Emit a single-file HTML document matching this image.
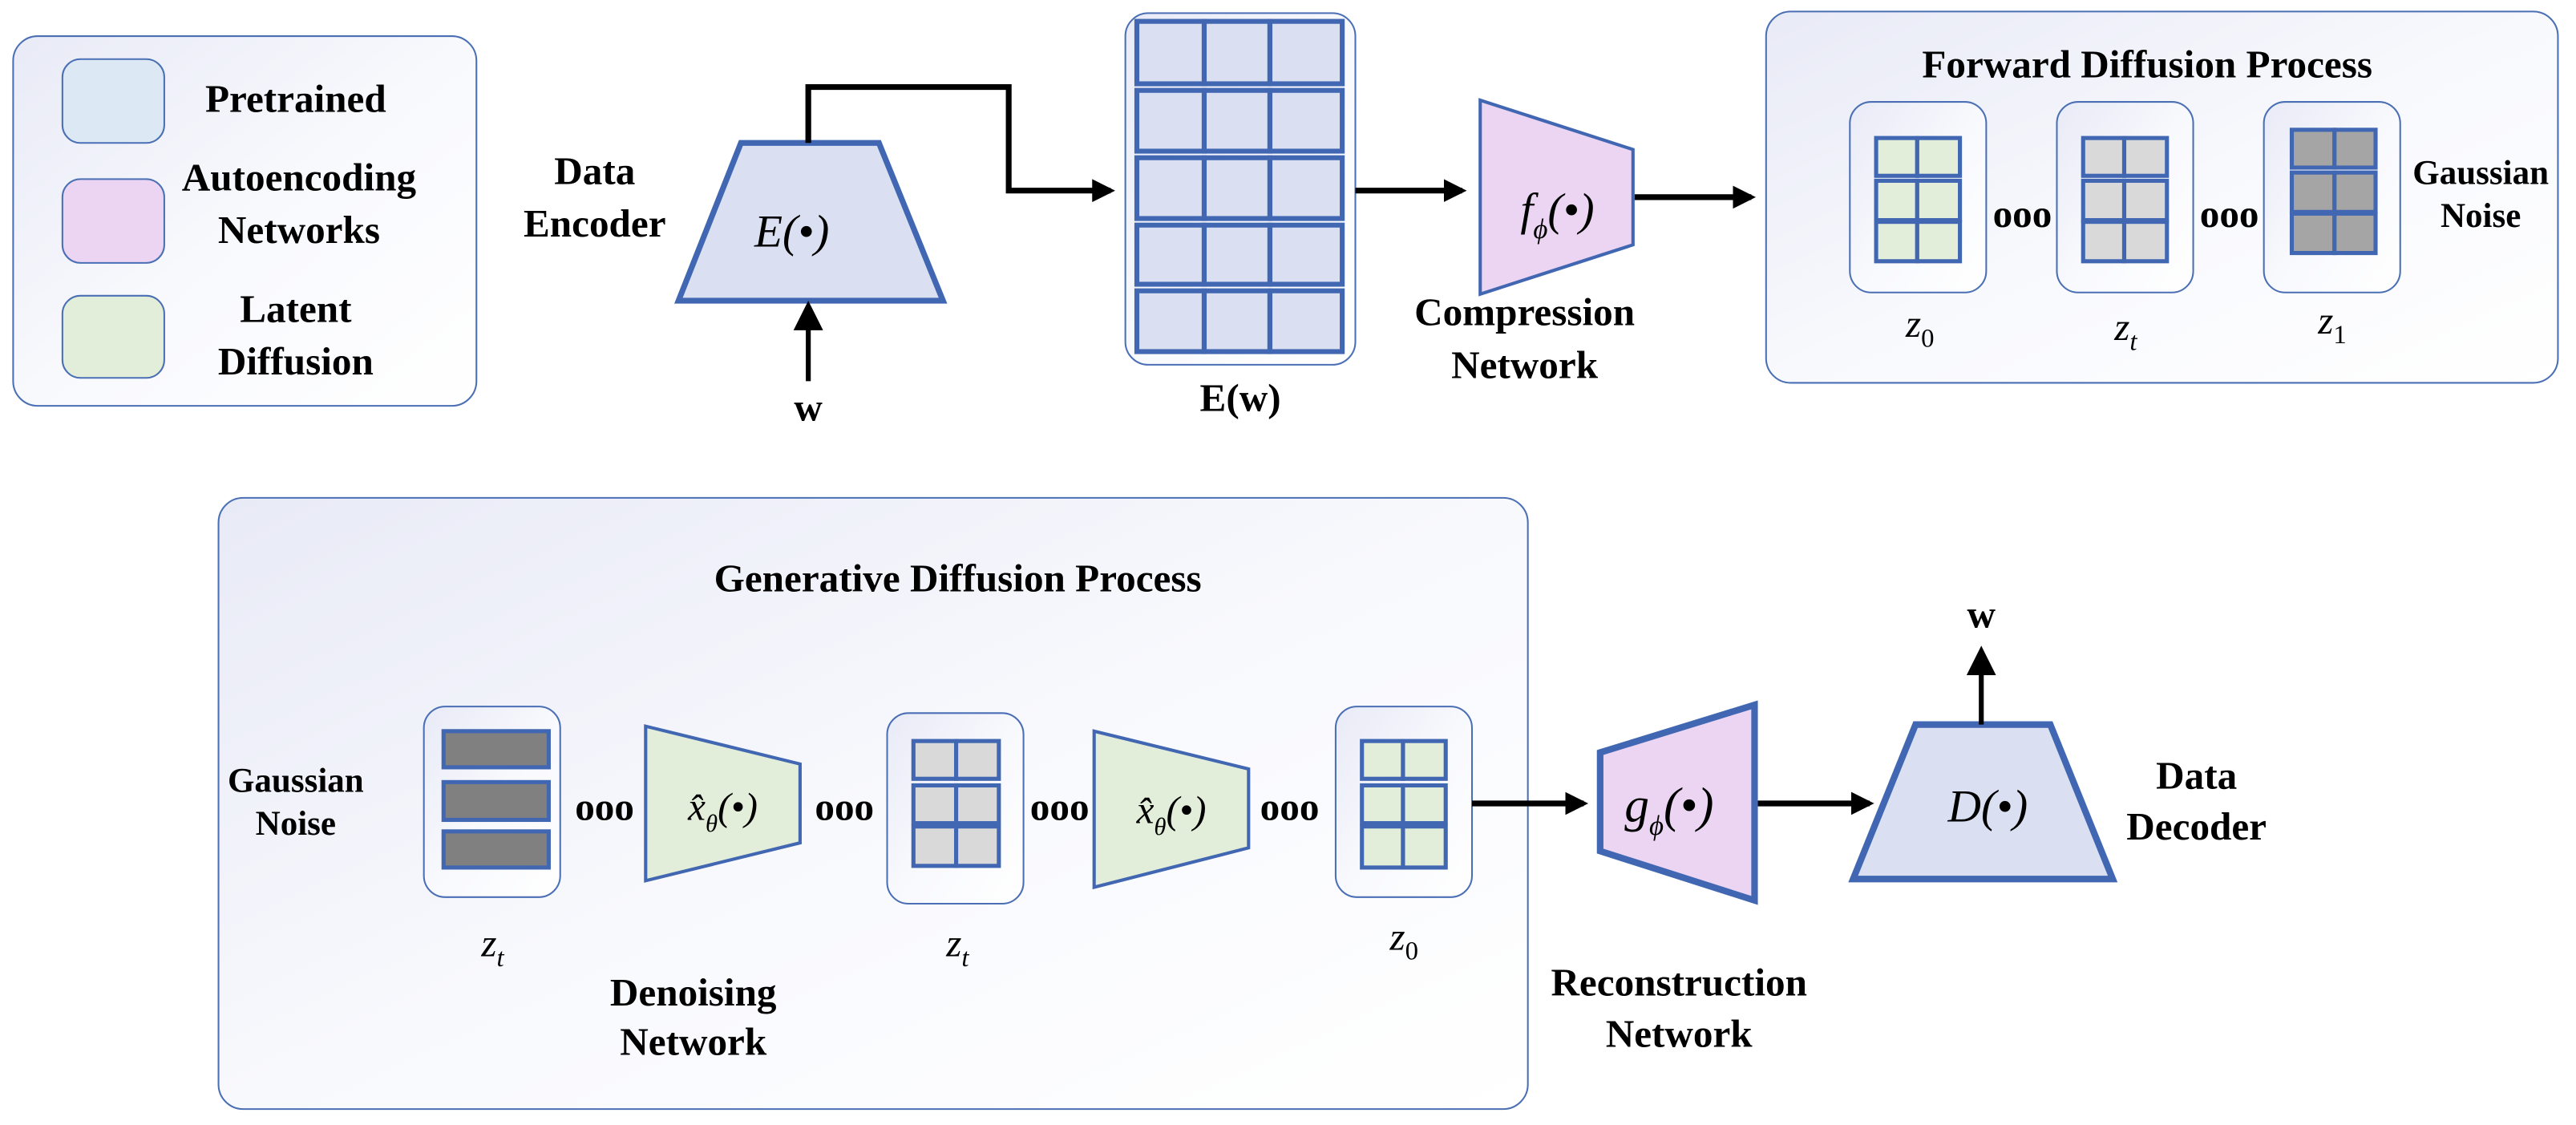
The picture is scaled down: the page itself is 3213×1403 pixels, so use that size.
<!DOCTYPE html>
<html><head><meta charset="utf-8"><style>
html,body{margin:0;padding:0;background:#fff;}
svg{display:block;font-family:'Liberation Serif','Times New Roman','DejaVu Serif',serif;}
svg text{font-family:'Liberation Serif','Times New Roman','DejaVu Serif',serif;fill:#000;}
.b{font-weight:bold;font-size:24px;}
.m{font-style:italic;font-size:28px;}
.z{font-style:italic;font-size:24px;}
</style></head><body>
<svg width="3213" height="1403" viewBox="0 0 1568 684.7" preserveAspectRatio="none" xmlns="http://www.w3.org/2000/svg" font-family="Liberation Serif, serif">
<defs>
<linearGradient id="g" x1="0" y1="0" x2="1" y2="1">
<stop offset="0" stop-color="#e8eaf6"/><stop offset="0.5" stop-color="#f8f9fd"/><stop offset="1" stop-color="#ffffff"/>
</linearGradient>
<marker id="a" markerWidth="4" markerHeight="4" refX="3.2" refY="2" orient="auto" markerUnits="strokeWidth">
<path d="M0,0 L4,2 L0,4 z" fill="#000"/></marker>
<marker id="a2" markerWidth="6" markerHeight="6" refX="5" refY="3" orient="auto" markerUnits="strokeWidth">
<path d="M0,0 L6,3 L0,6 z" fill="#000"/></marker>
</defs>
<g stroke="#4a6fb5" stroke-width="1" fill="url(#g)">
<rect x="8" y="22" width="282" height="225" rx="15"/>
<rect x="685" y="8" width="140" height="214" rx="14"/>
<rect x="1075" y="7" width="482" height="226" rx="15"/>
<rect x="1126" y="62" width="83" height="116" rx="13"/>
<rect x="1252" y="62" width="83" height="116" rx="13"/>
<rect x="1378" y="62" width="83" height="116" rx="13"/>
<rect x="133" y="303" width="797" height="372" rx="15"/>
<rect x="258" y="430" width="83" height="116" rx="13"/>
<rect x="540" y="434" width="83" height="116" rx="13"/>
<rect x="813" y="430" width="83" height="116" rx="13"/>
</g>
<g stroke="#4a6fb5" stroke-width="1">
<rect x="38" y="36" width="62" height="51" rx="11" fill="#dde8f5"/>
<rect x="38" y="109" width="62" height="51" rx="11" fill="#ecd5f3"/>
<rect x="38" y="180" width="62" height="50" rx="11" fill="#e2eed9"/>
</g>
<g text-anchor="middle">
<text class="b" x="180" y="68">Pretrained</text>
<text class="b" x="182" y="116">Autoencoding</text>
<text class="b" x="182" y="148">Networks</text>
<text class="b" x="180" y="196">Latent</text>
<text class="b" x="180" y="228">Diffusion</text>
<text class="b" x="362" y="112">Data</text>
<text class="b" x="362" y="144">Encoder</text>
<text class="b" x="492" y="256">w</text>
<text class="b" x="755" y="250">E(w)</text>
<text class="b" x="928" y="198">Compression</text>
<text class="b" x="928" y="230">Network</text>
<text class="b" x="1307" y="47">Forward Diffusion Process</text>
<text class="b" x="1510" y="112" style="font-size:21px">Gaussian</text>
<text class="b" x="1510" y="138" style="font-size:21px">Noise</text>
<text class="b" x="1231" y="138">ooo</text>
<text class="b" x="1357" y="138">ooo</text>
<text class="b" x="583" y="360">Generative Diffusion Process</text>
<text class="b" x="180" y="482" style="font-size:21px">Gaussian</text>
<text class="b" x="180" y="508" style="font-size:21px">Noise</text>
<text class="b" x="368" y="499">ooo</text>
<text class="b" x="514" y="499">ooo</text>
<text class="b" x="645" y="499">ooo</text>
<text class="b" x="785" y="499">ooo</text>
<text class="b" x="422" y="612">Denoising</text>
<text class="b" x="422" y="642">Network</text>
<text class="b" x="1022" y="606">Reconstruction</text>
<text class="b" x="1022" y="637">Network</text>
<text class="b" x="1206" y="382">w</text>
<text class="b" x="1337" y="480">Data</text>
<text class="b" x="1337" y="511">Decoder</text>
</g>
<polygon points="451,87 535,87 574,183 413,183" fill="#dae0f2" stroke="#4267b2" stroke-width="3.5"/>
<text class="m" x="482" y="150" text-anchor="middle">E(•)</text>
<line x1="492" y1="232" x2="492" y2="186" stroke="#000" stroke-width="3" marker-end="url(#a2)"/>
<polyline points="492,87 492,53 614,53 614,116 676,116" fill="none" stroke="#000" stroke-width="3.5" marker-end="url(#a)"/>
<g fill="#dae0f2" stroke="#4267b2" stroke-width="3">
<rect x="692" y="13" width="41" height="38"/><rect x="733" y="13" width="40" height="38"/><rect x="773" y="13" width="44" height="38"/>
<rect x="692" y="55" width="41" height="37"/><rect x="733" y="55" width="40" height="37"/><rect x="773" y="55" width="44" height="37"/>
<rect x="692" y="96" width="41" height="37"/><rect x="733" y="96" width="40" height="37"/><rect x="773" y="96" width="44" height="37"/>
<rect x="692" y="137" width="41" height="36"/><rect x="733" y="137" width="40" height="36"/><rect x="773" y="137" width="44" height="36"/>
<rect x="692" y="177" width="41" height="37"/><rect x="733" y="177" width="40" height="37"/><rect x="773" y="177" width="44" height="37"/>
</g>
<line x1="825" y1="116" x2="890" y2="116" stroke="#000" stroke-width="3.5" marker-end="url(#a)"/>
<polygon points="901,61 994,91 994,149 901,179" fill="#ecd5f3" stroke="#4267b2" stroke-width="2"/>
<text class="m" x="948" y="137" text-anchor="middle">f<tspan font-size="17" dy="8">ϕ</tspan><tspan dy="-8">(•)</tspan></text>
<line x1="995" y1="120" x2="1066" y2="120" stroke="#000" stroke-width="3.5" marker-end="url(#a)"/>
<g stroke="#4267b2" stroke-width="2.5">
<g fill="#e2eed9">
<rect x="1142" y="84" width="25" height="23"/><rect x="1167" y="84" width="26" height="23"/>
<rect x="1142" y="110" width="25" height="24"/><rect x="1167" y="110" width="26" height="24"/>
<rect x="1142" y="135" width="25" height="24"/><rect x="1167" y="135" width="26" height="24"/>
</g>
<g fill="#d9d9d9">
<rect x="1268" y="84" width="25" height="23"/><rect x="1293" y="84" width="26" height="23"/>
<rect x="1268" y="110" width="25" height="24"/><rect x="1293" y="110" width="26" height="24"/>
<rect x="1268" y="135" width="25" height="24"/><rect x="1293" y="135" width="26" height="24"/>
</g>
<g fill="#a5a5a5">
<rect x="1395" y="79" width="26" height="23"/><rect x="1421" y="79" width="25" height="23"/>
<rect x="1395" y="105" width="26" height="24"/><rect x="1421" y="105" width="25" height="24"/>
<rect x="1395" y="130" width="26" height="24"/><rect x="1421" y="130" width="25" height="24"/>
</g>
</g>
<text class="z" x="1160" y="205">z<tspan font-size="16" dy="6" font-style="normal">0</tspan></text>
<text class="z" x="1287" y="207">z<tspan font-size="16" dy="6">t</tspan></text>
<text class="z" x="1411" y="203">z<tspan font-size="16" dy="6" font-style="normal">1</tspan></text>
<g stroke="#4267b2" stroke-width="2.5" fill="#808080">
<rect x="270" y="445" width="64" height="22"/>
<rect x="270" y="476" width="64" height="23"/>
<rect x="270" y="506" width="64" height="22"/>
</g>
<polygon points="393,442 487,465 487,513 393,536" fill="#e2eed9" stroke="#4267b2" stroke-width="2"/>
<polygon points="666,445 760,468 760,516 666,540" fill="#e2eed9" stroke="#4267b2" stroke-width="2"/>
<text class="m" x="440" y="499" text-anchor="middle" font-size="24" style="font-size:24px">x̂<tspan font-size="15" dy="7">θ</tspan><tspan dy="-7">(•)</tspan></text>
<text class="m" x="713" y="501" text-anchor="middle" font-size="24" style="font-size:24px">x̂<tspan font-size="15" dy="7">θ</tspan><tspan dy="-7">(•)</tspan></text>
<g stroke="#4267b2" stroke-width="2.5">
<g fill="#d9d9d9">
<rect x="556" y="451" width="26" height="23"/><rect x="582" y="451" width="26" height="23"/>
<rect x="556" y="478" width="26" height="23"/><rect x="582" y="478" width="26" height="23"/>
<rect x="556" y="503" width="26" height="24"/><rect x="582" y="503" width="26" height="24"/>
</g>
<g fill="#e2eed9">
<rect x="829" y="451" width="25" height="23"/><rect x="854" y="451" width="26" height="23"/>
<rect x="829" y="478" width="25" height="23"/><rect x="854" y="478" width="26" height="23"/>
<rect x="829" y="503" width="25" height="25"/><rect x="854" y="503" width="26" height="25"/>
</g>
</g>
<text class="z" x="293" y="582">z<tspan font-size="16" dy="6">t</tspan></text>
<text class="z" x="576" y="582">z<tspan font-size="16" dy="6">t</tspan></text>
<text class="z" x="846" y="578">z<tspan font-size="16" dy="6" font-style="normal">0</tspan></text>
<line x1="896" y1="489" x2="964" y2="489" stroke="#000" stroke-width="3.5" marker-end="url(#a)"/>
<polygon points="974,458 1068,429 1068,548 974,518" fill="#ecd5f3" stroke="#4267b2" stroke-width="4"/>
<text class="m" x="1016" y="500" text-anchor="middle" style="font-size:30px">g<tspan font-size="17" dy="8">ϕ</tspan><tspan dy="-8">(•)</tspan></text>
<line x1="1070" y1="489" x2="1138" y2="489" stroke="#000" stroke-width="3.5" marker-end="url(#a)"/>
<polygon points="1166,441 1248,441 1286,535 1128,535" fill="#dae0f2" stroke="#4267b2" stroke-width="4"/>
<text class="m" x="1210" y="500" text-anchor="middle">D(•)</text>
<line x1="1206" y1="441" x2="1206" y2="396" stroke="#000" stroke-width="3" marker-end="url(#a2)"/>
</svg>
</body></html>
